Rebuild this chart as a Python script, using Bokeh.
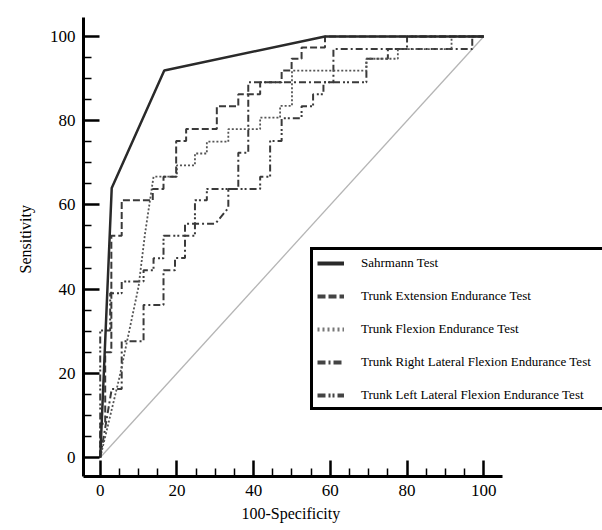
from bokeh.plotting import figure
from bokeh.models import FixedTicker, Legend, LegendItem, Title
from bokeh.embed import file_html
from bokeh.resources import INLINE

# ---- data ----
major_ticks = [0, 20, 40, 60, 80, 100]
minor_ticks = [5, 10, 15, 25, 30, 35, 45, 50, 55, 65, 70, 75, 85, 90, 95]
x_axis_extent = (-4.36, 104.9)

diag_fpr = [0, 100]
diag_tpr = [0, 100]

sahrmann_fpr = [0, 3.0, 16.7, 58.6, 100]
sahrmann_tpr = [0, 64.0, 91.9, 100, 100]

ext_fpr = [0, 0, 1.3, 1.3, 2.9, 2.9, 5.6, 5.6, 13.7, 13.7, 16.5, 16.5, 19.8, 19.8,
           22.4, 22.4, 30.4, 30.4, 36.0, 36.0, 41.7, 41.7, 47.3, 47.3, 49.9, 49.9,
           52.5, 52.5, 58.6, 58.6, 100]
ext_tpr = [0, 8, 8, 25, 25, 52.7, 52.7, 61.1, 61.1, 63.8, 63.8, 66.7, 66.7, 75.2,
           75.2, 78.0, 78.0, 83.4, 83.4, 86.3, 86.3, 89.1, 89.1, 91.9, 91.9, 94.7,
           94.7, 97.4, 97.4, 100, 100]

flex_fpr = [0, 5, 10, 11.7, 13.9, 20, 20, 24.7, 24.7, 27.8, 27.8, 33.4, 33.4,
            41.7, 41.7, 46.9, 46.9, 50, 50, 69.4, 69.4, 77.6, 77.6, 91.6, 91.6, 100]
flex_tpr = [0, 19, 40.6, 53.3, 66.7, 66.7, 69.4, 69.4, 72.2, 72.2, 75, 75, 78,
            78, 80.7, 80.7, 83.5, 83.5, 91.9, 91.9, 94.7, 94.7, 97, 97, 100, 100]

rl_fpr = [0, 3.0, 5.6, 5.6, 11.3, 11.3, 16.5, 16.5, 19.5, 19.5, 22.1, 22.1, 30.0,
          33.4, 33.4, 36.0, 36.0, 38.6, 38.6, 60.8, 60.8, 97.0, 97.0, 100]
rl_tpr = [0, 16.3, 16.3, 27.6, 27.6, 36.2, 36.2, 44.5, 44.5, 47.4, 47.4, 55.5, 55.5,
          59.3, 63.8, 63.8, 72.4, 72.4, 89.1, 89.1, 97.0, 97.0, 100, 100]

ll_fpr = [0, 0, 2.6, 2.6, 5.6, 5.6, 11.3, 11.3, 13.9, 13.9, 16.5, 16.5, 24.7, 24.7,
          27.8, 27.8, 41.7, 41.7, 44.3, 44.3, 47.3, 47.3, 52.5, 52.5, 55.5, 55.5,
          58.2, 58.2, 69.4, 69.4, 75.0, 75.0, 80.0, 80.0, 100]
ll_tpr = [0, 30.2, 30.2, 39.0, 39.0, 41.8, 41.8, 44.5, 44.5, 47.3, 47.3, 52.7, 52.7,
          61.1, 61.1, 63.8, 63.8, 66.7, 66.7, 75.2, 75.2, 80.6, 80.6, 83.4, 83.4,
          86.3, 86.3, 89.1, 89.1, 94.7, 94.7, 97.0, 97.0, 100, 100]

labels = ["Sahrmann Test",
          "Trunk Extension Endurance Test",
          "Trunk Flexion Endurance Test",
          "Trunk Right Lateral Flexion Endurance Test",
          "Trunk Left Lateral Flexion Endurance Test"]

SERIF = "Liberation Serif"
NAN = float("nan")

# frame spans from the y axis to the right edge so the legend box is not cut
# at the end of the x axis; the x axis itself is limited with bounds
p = figure(width=602, height=530, x_range=(-4.36, 130.96), y_range=(-4.5, 104.5),
           output_backend="svg", toolbar_location=None,
           min_border_left=83, min_border_right=0, min_border_top=17, min_border_bottom=54)
p.outline_line_color = None
p.grid.visible = False
p.background_fill_color = "white"
p.border_fill_color = "white"

for ax in (p.xaxis[0], p.yaxis[0]):
    ax.ticker = FixedTicker(ticks=major_ticks, minor_ticks=minor_ticks)
    ax.axis_line_width = 3
    ax.axis_line_color = "black"
    ax.major_tick_in = 16
    ax.major_tick_out = 0
    ax.minor_tick_in = 8
    ax.minor_tick_out = 0
    ax.major_tick_line_width = 2.5
    ax.major_tick_line_color = "black"
    ax.minor_tick_line_width = 1.5
    ax.minor_tick_line_color = "black"
    ax.major_label_text_font = SERIF
    ax.major_label_text_font_size = "17px"
    ax.major_label_text_color = "black"

p.xaxis.bounds = x_axis_extent
p.xaxis.major_label_standoff = 8
p.yaxis.major_label_standoff = 8

# axis titles
p.add_layout(Title(text="100-Specificity", align="left", offset=158, standoff=8,
                   text_font=SERIF, text_font_size="16px", text_font_style="normal",
                   text_color="black"), "below")
p.add_layout(Title(text="Sensitivity", align="left", offset=203, standoff=25,
                   text_font=SERIF, text_font_size="16px", text_font_style="normal",
                   text_color="black"), "left")

# reference diagonal
p.line(diag_fpr, diag_tpr, line_color="#b5b5b5", line_width=1.3)

# curves
p.line(ll_fpr, ll_tpr, line_color="#3a3a3a", line_width=2, line_dash="7 3 2 2 2 3")
p.line(rl_fpr, rl_tpr, line_color="#3a3a3a", line_width=2, line_dash="7 3 2 3")
p.line(flex_fpr, flex_tpr, line_color="#555555", line_width=1.8, line_dash="2 2")
p.line(ext_fpr, ext_tpr, line_color="#3a3a3a", line_width=2, line_dash="7 3")
p.line(sahrmann_fpr, sahrmann_tpr, line_color="#2a2a2a", line_width=2.5)

# legend swatches (thicker than the plotted lines, as in the reference)
styles = [("solid", "#2a2a2a"), ("8 3", "#444444"), ("2 3", "#777777"),
          ("8 3 2 3", "#444444"), ("8 3 2 2 2 3", "#444444")]
items = []
for lab, (dash, col) in zip(labels, styles):
    r = p.line([NAN], [NAN], line_color=col, line_width=4, line_dash=dash)
    items.append(LegendItem(label=lab, renderers=[r]))

legend = Legend(items=items, location=(227, 66), margin=0,
                border_line_width=3, border_line_color="black", border_line_alpha=1,
                background_fill_color="white", background_fill_alpha=1,
                padding=4, spacing=16, glyph_width=27, glyph_height=16,
                label_height=17, label_standoff=17, label_width=285,
                label_text_font=SERIF, label_text_font_size="13px",
                label_text_color="black")
p.add_layout(legend)

open("out.html", "w").write(file_html(p, INLINE))
